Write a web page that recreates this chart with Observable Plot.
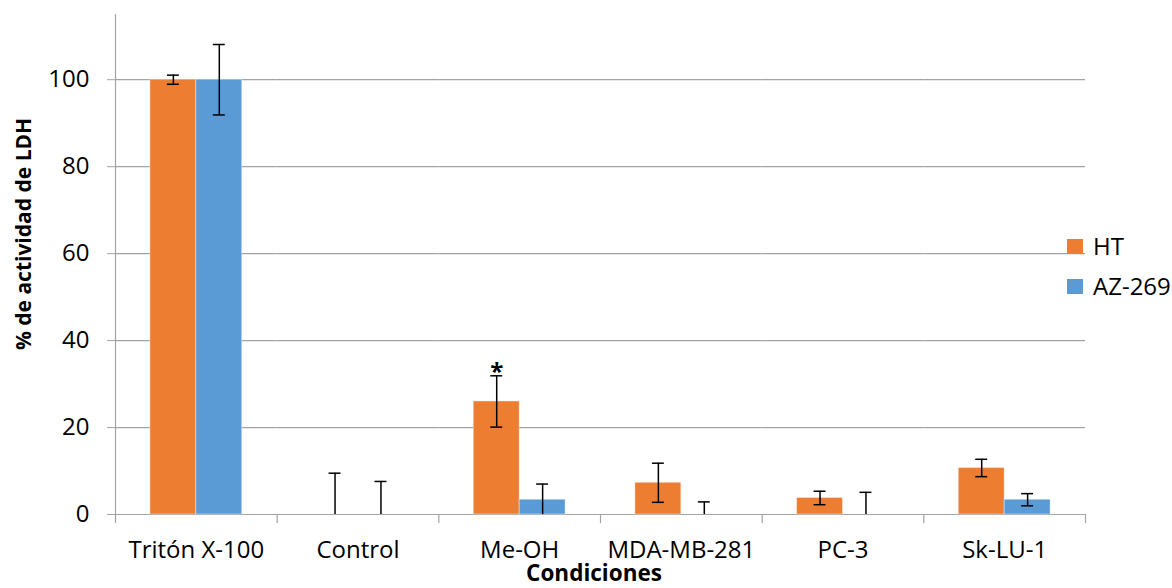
<!DOCTYPE html>
<html>
<head>
<meta charset="utf-8">
<script src="https://cdn.jsdelivr.net/npm/d3@7"></script>
<script src="https://cdn.jsdelivr.net/npm/@observablehq/plot@0.6"></script>
<style>
  html, body { margin: 0; padding: 0; background: #fff; }
  #wrap { position: relative; width: 1172px; height: 588px; font-family: "Open Sans", sans-serif; color: #000; }
  #wrap svg { position: absolute; left: 0; top: 0; }
  .ylab { position: absolute; left: 23px; top: 234px; transform: translate(-50%, -50%) rotate(-90deg); white-space: nowrap; font-weight: bold; font-size: 21px; line-height: 21px; }
  .xlab { position: absolute; left: 594px; top: 562px; transform: translateX(-50%); white-space: nowrap; font-weight: bold; font-size: 22.5px; line-height: 22px; }
  .legend { position: absolute; left: 1067px; top: 234px; font-size: 24px; line-height: 24px; }
  .legend .item { position: relative; height: 40px; padding-left: 26px; white-space: nowrap; }
  .legend .sw { position: absolute; left: 0; top: 5px; width: 16px; height: 15px; }
</style>
</head>
<body>
<div id="wrap"></div>
<script>
const categories = ["Tritón X-100", "Control", "Me-OH", "MDA-MB-281", "PC-3", "Sk-LU-1"];
const series = ["HT", "AZ-269"];
const seriesColors = ["#ED7D31", "#5B9BD5"];
const htValues = [100, 0, 26.0, 7.3, 3.8, 10.7];
const htErrors = [1.05, 9.5, 5.9, 4.5, 1.55, 2.0];
const azValues = [100, 0, 3.4, 0, 0, 3.4];
const azErrors = [8.1, 7.6, 3.6, 2.9, 5.1, 1.4];
const htMarks = ["", "", "*", "", "", ""];
const yTicks = [0, 20, 40, 60, 80, 100];
const yLabel = "% de actividad de LDH";
const xLabel = "Condiciones";

const rows = [];
categories.forEach((c, i) => {
  rows.push({category: c, series: "HT", value: htValues[i], err: htErrors[i], mark: htMarks[i]});
  rows.push({category: c, series: "AZ-269", value: azValues[i], err: azErrors[i], mark: ""});
});
rows.forEach(d => {
  d.lo = Math.max(0, d.value - d.err);
  d.hi = d.value + d.err;
});

const grid = "#a3a3a3";
const chart = Plot.plot({
  width: 1172,
  height: 588,
  marginLeft: 115,
  marginRight: 87,
  marginTop: 14,
  marginBottom: 74,
  style: {fontFamily: "'Open Sans', sans-serif", fontSize: "24px", color: "#000", background: "transparent"},
  fx: {domain: categories, padding: 0, round: false, label: null, axis: null},
  x: {domain: series, paddingInner: 0, paddingOuter: 0.76, round: false, axis: null},
  y: {domain: [0, 115], label: null},
  color: {domain: series, range: seriesColors},
  marks: [
    Plot.gridY(yTicks, {stroke: grid, strokeOpacity: 1, strokeWidth: 1.2}),
    Plot.frame({anchor: "left", facetAnchor: "left", stroke: grid, strokeWidth: 1.2}),
    Plot.frame({anchor: "left", stroke: grid, strokeWidth: 1.2, insetTop: 500, insetBottom: -8}),
    Plot.frame({anchor: "right", facetAnchor: "right", stroke: grid, strokeWidth: 1.2, insetTop: 500, insetBottom: -8}),
    Plot.axisY(yTicks, {tickSize: 8, tickPadding: 18, stroke: grid, fontSize: 24, label: null}),
    Plot.axisFx({anchor: "bottom", tickSize: 0, tickPadding: 26, fontSize: 24, label: null}),
    Plot.barY(rows, {fx: "category", x: "series", y: "value", fill: "series", stroke: "white", strokeOpacity: 0.5, strokeWidth: 0.8}),
    Plot.ruleX(rows, {fx: "category", x: "series", y1: "lo", y2: "hi", stroke: "#000", strokeWidth: 1.5}),
    Plot.tickY(rows, {fx: "category", x: "series", y: "hi", insetLeft: 17, insetRight: 17, stroke: "#000", strokeWidth: 1.5}),
    Plot.tickY(rows.filter(d => d.value - d.err >= 0), {fx: "category", x: "series", y: "lo", insetLeft: 17, insetRight: 17, stroke: "#000", strokeWidth: 1.5}),
    Plot.text(rows.filter(d => d.mark), {fx: "category", x: "series", y: "hi", text: "mark", fontSize: 24, fontWeight: "bold", lineAnchor: "bottom", dy: 4})
  ]
});

const wrap = document.getElementById("wrap");
wrap.appendChild(chart);

const yl = document.createElement("div");
yl.className = "ylab"; yl.textContent = yLabel; wrap.appendChild(yl);
const xl = document.createElement("div");
xl.className = "xlab"; xl.textContent = xLabel; wrap.appendChild(xl);

const lg = document.createElement("div");
lg.className = "legend";
series.forEach((s, i) => {
  const it = document.createElement("div");
  it.className = "item";
  const sw = document.createElement("span");
  sw.className = "sw"; sw.style.background = seriesColors[i];
  it.appendChild(sw);
  it.appendChild(document.createTextNode(s));
  lg.appendChild(it);
});
wrap.appendChild(lg);
</script>
</body>
</html>
